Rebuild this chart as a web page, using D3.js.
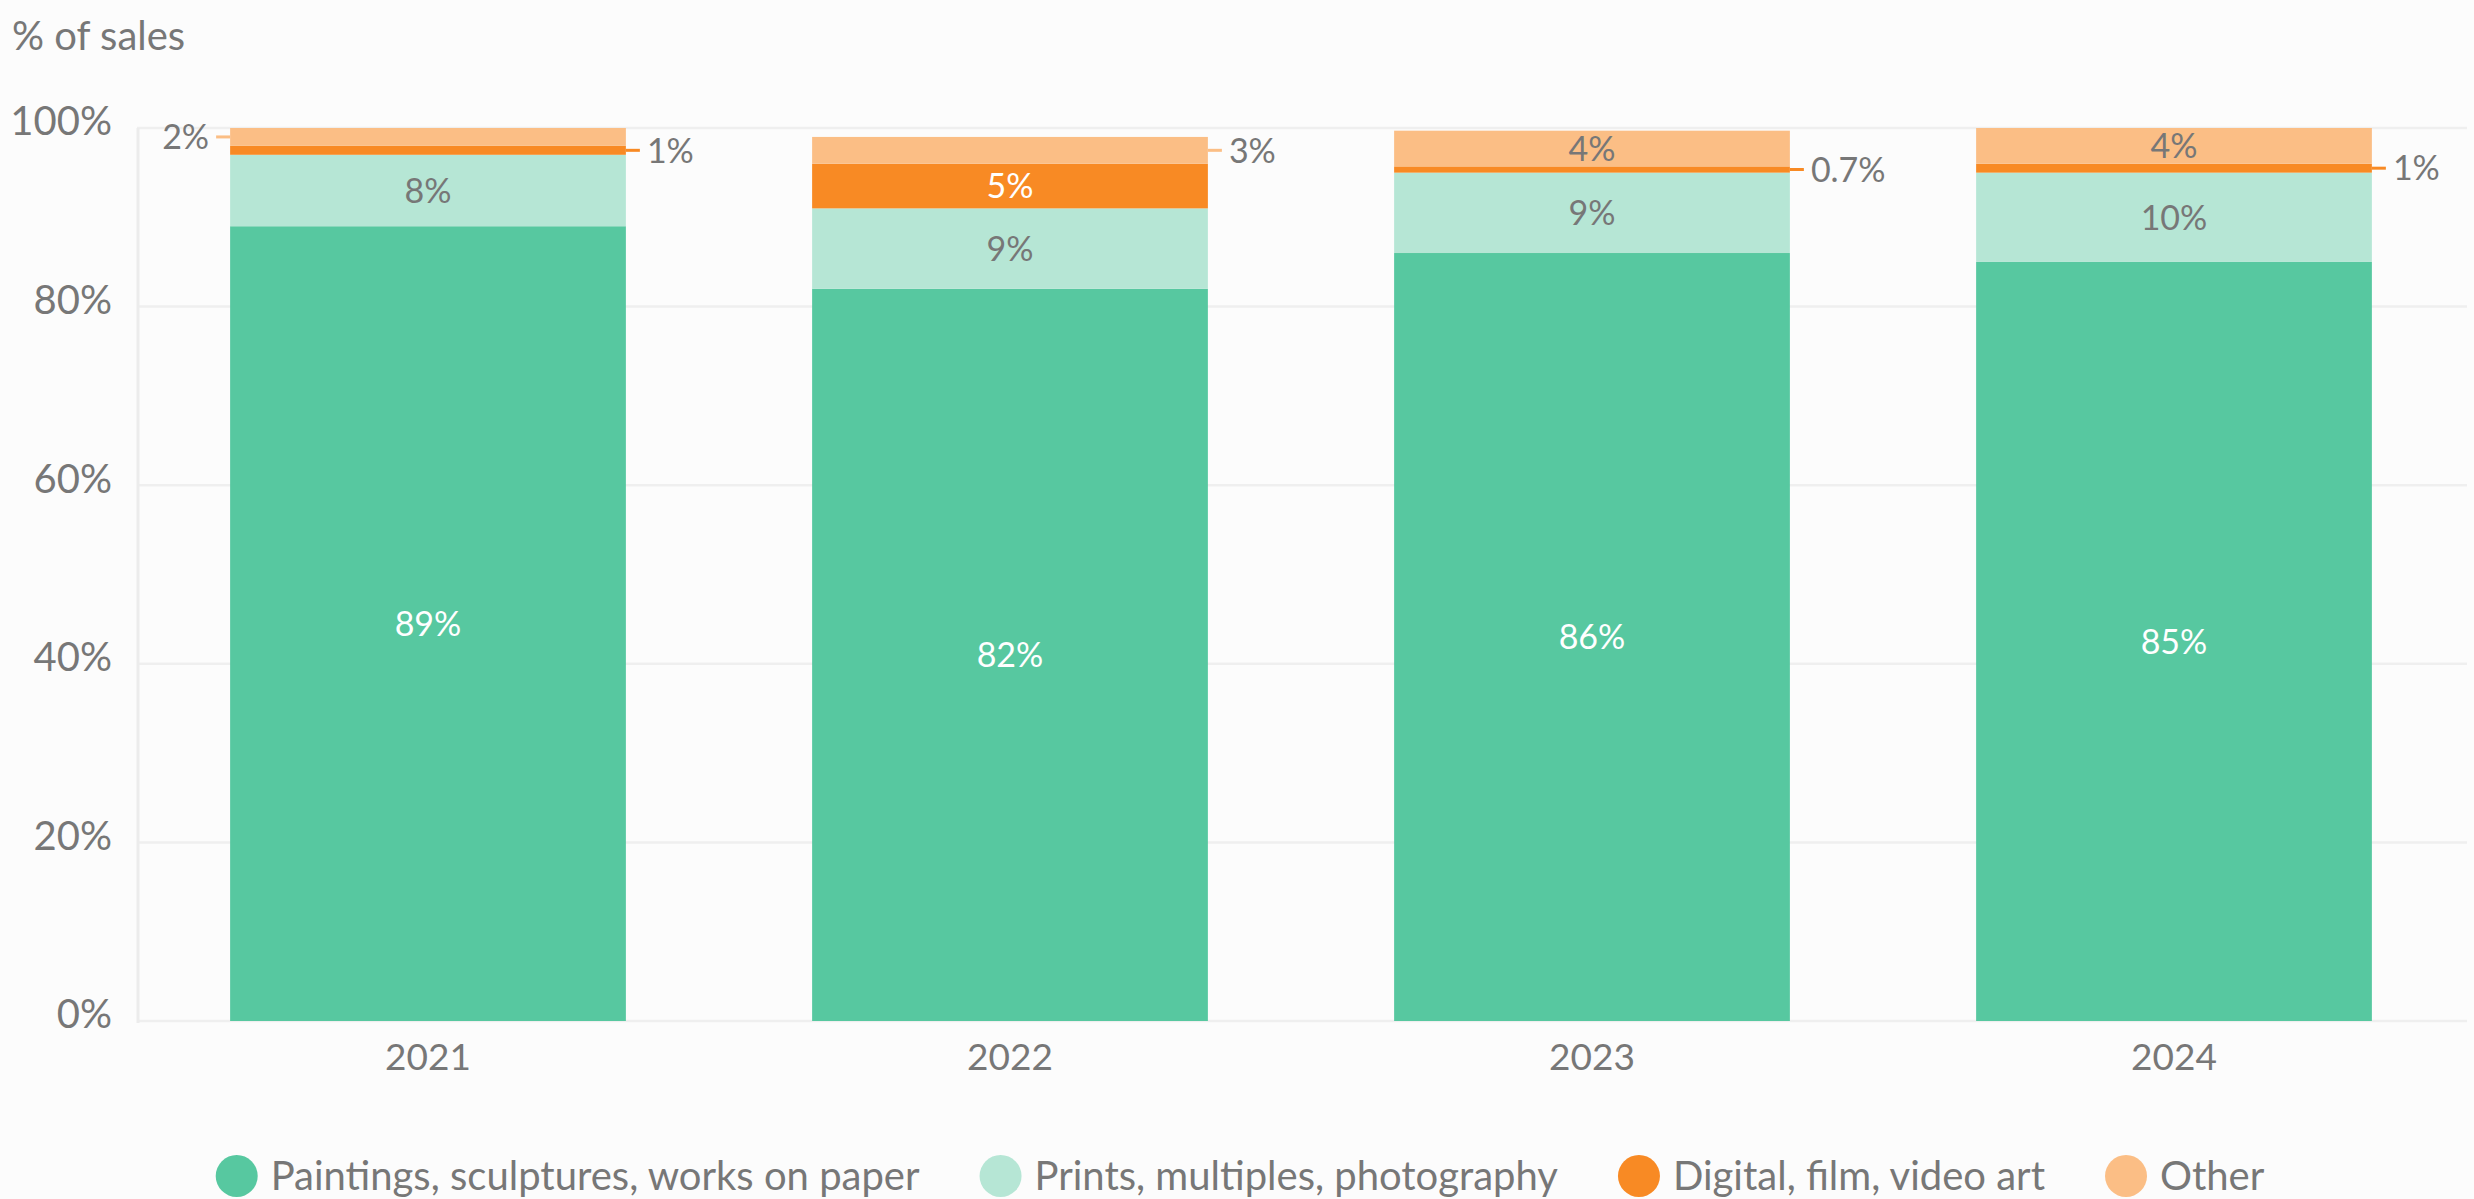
<!DOCTYPE html>
<html>
<head>
<meta charset="utf-8">
<script src="https://cdn.jsdelivr.net/npm/d3@7"></script>
<style>
  html, body { margin: 0; padding: 0; background: #fcfcfc; }
  svg { display: block; font-family: Lato, "Open Sans", sans-serif; }
</style>
</head>
<body>
<svg id="chart" width="2474" height="1199"></svg>
<script>
// Share of sales by medium, 2021-2024
const years = ["2021", "2022", "2023", "2024"];
const seriesNames = [
  "Paintings, sculptures, works on paper",
  "Prints, multiples, photography",
  "Digital, film, video art",
  "Other"
];
const paintings = [89, 82, 86, 85];
const prints = [8, 9, 9, 10];
const digital = [1, 5, 0.7, 1];
const other = [2, 3, 4, 4];
const yTicks = [0, 20, 40, 60, 80, 100];
const yTitle = "% of sales";

const colors = ["#57c8a0", "#b6e6d5", "#f88a24", "#fbbe85"];
const labelColors = ["#ffffff", "#777777", "#ffffff", "#777777"];
const textGray = "#777777";

const seriesValues = [paintings, prints, digital, other];
const rows = years.map((yr, i) => {
  const r = { year: yr };
  seriesNames.forEach((s, k) => { r[s] = seriesValues[k][i]; });
  return r;
});
const stacked = d3.stack().keys(seriesNames)(rows);

const svg = d3.select("#chart");

const x = d3.scaleBand().domain(years).range([137, 2465])
  .paddingInner(0.32).paddingOuter(0.16);
const y = d3.scaleLinear().domain([0, 100]).range([1021, 128]);

// gridlines
svg.append("g").selectAll("line").data(yTicks).join("line")
  .attr("x1", 137).attr("x2", 2467)
  .attr("y1", d => y(d)).attr("y2", d => y(d))
  .attr("stroke", "#efefef").attr("stroke-width", 2.5);

// left axis line
svg.append("line")
  .attr("x1", 138).attr("x2", 138)
  .attr("y1", y(100)).attr("y2", y(0) + 2)
  .attr("stroke", "#ececec").attr("stroke-width", 3);

// y axis tick labels
const yAxis = svg.append("g").attr("transform", "translate(138,0)")
  .call(d3.axisLeft(y).tickValues(yTicks).tickFormat(d => d + "%").tickSize(0).tickPadding(26));
yAxis.select(".domain").remove();
yAxis.selectAll("text")
  .attr("fill", textGray).attr("font-size", 40).attr("dy", "0.17em")
  .attr("font-family", "Lato, sans-serif");

// x axis labels
const xAxis = svg.append("g").attr("transform", `translate(0,${y(0)})`)
  .call(d3.axisBottom(x).tickSize(0).tickPadding(23));
xAxis.select(".domain").remove();
xAxis.selectAll("text")
  .attr("fill", textGray).attr("font-size", 37)
  .attr("font-family", "Lato, sans-serif");

// axis title
svg.append("text").attr("x", 12).attr("y", 50)
  .attr("fill", textGray).attr("font-size", 40).text(yTitle);

// stacked bars
const layers = svg.append("g").selectAll("g").data(stacked).join("g")
  .attr("fill", (d, i) => colors[i]);
layers.selectAll("rect").data(d => d).join("rect")
  .attr("x", d => x(d.data.year))
  .attr("width", x.bandwidth())
  .attr("y", d => y(d[1]))
  .attr("height", d => y(d[0]) - y(d[1]));

// segment labels
const fmt = v => (v < 1 ? d3.format(".1f")(v) : d3.format("d")(v)) + "%";
const labelG = svg.append("g").attr("font-size", 34);
years.forEach((yr, i) => {
  const segs = stacked.map((layer, k) => ({ k, v: seriesValues[k][i], lo: layer[i][0], hi: layer[i][1] }));
  const small = segs.filter(s => s.v < 4);
  segs.forEach(s => {
    const cy = y((s.lo + s.hi) / 2);
    if (s.v >= 4) {
      labelG.append("text")
        .attr("x", x(yr) + x.bandwidth() / 2).attr("y", cy).attr("dy", "0.36em")
        .attr("text-anchor", "middle").attr("fill", labelColors[s.k]).text(fmt(s.v));
    } else {
      // when two small segments share a bar, the upper one goes to the left
      const left = small.length > 1 && s === small[small.length - 1];
      const edge = left ? x(yr) : x(yr) + x.bandwidth();
      const dir = left ? -1 : 1;
      labelG.append("line")
        .attr("x1", edge).attr("x2", edge + dir * 14)
        .attr("y1", cy).attr("y2", cy)
        .attr("stroke", colors[s.k]).attr("stroke-width", 3);
      labelG.append("text")
        .attr("x", edge + dir * 21).attr("y", cy).attr("dy", "0.36em")
        .attr("text-anchor", left ? "end" : "start").attr("fill", textGray).text(fmt(s.v));
    }
  });
});

// legend
const legend = svg.append("g").attr("font-size", 40);
const items = seriesNames.map((name, i) => {
  const g = legend.append("g");
  g.append("circle").attr("cx", 0).attr("cy", 0).attr("r", 21).attr("fill", colors[i]);
  const t = g.append("text").attr("x", 34).attr("y", 0).attr("dy", "0.35em")
    .attr("fill", textGray).text(name);
  return { g, w: 34 + t.node().getComputedTextLength() };
});
const gap = 60;
const total = d3.sum(items, d => d.w + 21) + gap * (items.length - 1);
let cx = 1240 - total / 2 + 21;
items.forEach(it => {
  it.g.attr("transform", `translate(${cx},1176)`);
  cx += it.w + gap + 21;
});
</script>
</body>
</html>
